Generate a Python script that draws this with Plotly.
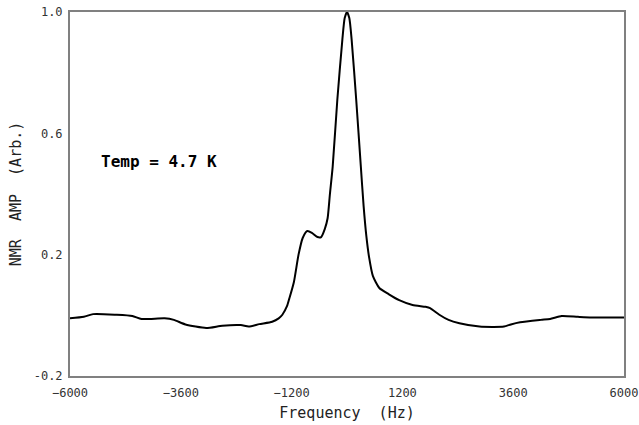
import plotly.graph_objects as go

freq_hz = [-6000, -5700, -5500, -5000, -4650, -4450, -3950, -3750, -3500, -3050,
           -2700, -2300, -2130, -1900, -1620, -1480, -1400, -1300, -1250, -1150,
           -1050, -960, -860, -760, -640, -560, -480, -420, -370, -310,
           -210, -100, -50, 0, 50, 100, 200, 300, 360, 420,
           480, 560, 700, 900, 1130, 1420, 1700, 1800, 2000, 2200,
           2435, 2870, 3400, 3550, 3750, 4200, 4400, 4650, 5000, 5300, 6000]
nmr_amp = [-0.010, -0.005, 0.004, 0.002, -0.002, -0.012, -0.010, -0.015, -0.030, -0.042,
           -0.034, -0.032, -0.037, -0.029, -0.021, -0.010, 0.002, 0.030, 0.055, 0.110,
           0.200, 0.255, 0.278, 0.272, 0.258, 0.258, 0.285, 0.320, 0.400, 0.490,
           0.710, 0.910, 0.980, 1.000, 0.980, 0.910, 0.710, 0.490, 0.360, 0.260,
           0.190, 0.130, 0.090, 0.070, 0.050, 0.034, 0.028, 0.024, 0.002, -0.015,
           -0.026, -0.037, -0.037, -0.030, -0.023, -0.015, -0.012, -0.002, -0.005, -0.007, -0.007]

x_ticks = [-6000, -3600, -1200, 1200, 3600, 6000]
y_ticks = [-0.2, 0.2, 0.6, 1.0]
y_tick_text = ["-0.2", "0.2", "0.6", "1.0"]

mono = "DejaVu Sans Mono"

fig = go.Figure()
fig.add_trace(go.Scatter(
    x=freq_hz, y=nmr_amp, mode="lines",
    line=dict(color="black", width=2, shape="spline", smoothing=0.6),
    showlegend=False, hoverinfo="skip",
))

fig.add_annotation(
    x=-5380, y=0.506, xref="x", yref="y", text="<b>Temp = 4.7 K</b>",
    showarrow=False, xanchor="left", yanchor="middle",
    font=dict(family=mono, size=16, color="black"),
)

fig.update_xaxes(
    range=[-6000, 6000], tickvals=x_ticks, ticks="", showgrid=False, zeroline=False,
    showline=True, mirror=True, linecolor="#808080", linewidth=2, automargin=False,
    ticklabeloverflow="allow", ticklabelstandoff=5,
    tickfont=dict(family=mono, size=12, color="#333333"),
    title=dict(text="Frequency  (Hz)", font=dict(family=mono, size=15, color="#222222"), standoff=8),
)
fig.update_yaxes(
    range=[-0.2, 1.0], tickvals=y_ticks, ticktext=y_tick_text, ticks="", showgrid=False,
    zeroline=False, showline=True, mirror=True, linecolor="#808080", linewidth=2, automargin=False,
    ticklabeloverflow="allow", ticklabelstandoff=3,
    tickfont=dict(family=mono, size=12, color="#333333"),
    title=dict(text="NMR  AMP  (Arb.)", font=dict(family=mono, size=15, color="#222222"), standoff=8),
)

fig.update_layout(
    width=639, height=425,
    margin=dict(l=70, r=15, t=12, b=49, autoexpand=False),
    paper_bgcolor="white", plot_bgcolor="white",
)

fig.write_html(
    "out.html",
    config={"displayModeBar": False, "staticPlot": True},
    post_script="document.body.style.margin='0';",
)
